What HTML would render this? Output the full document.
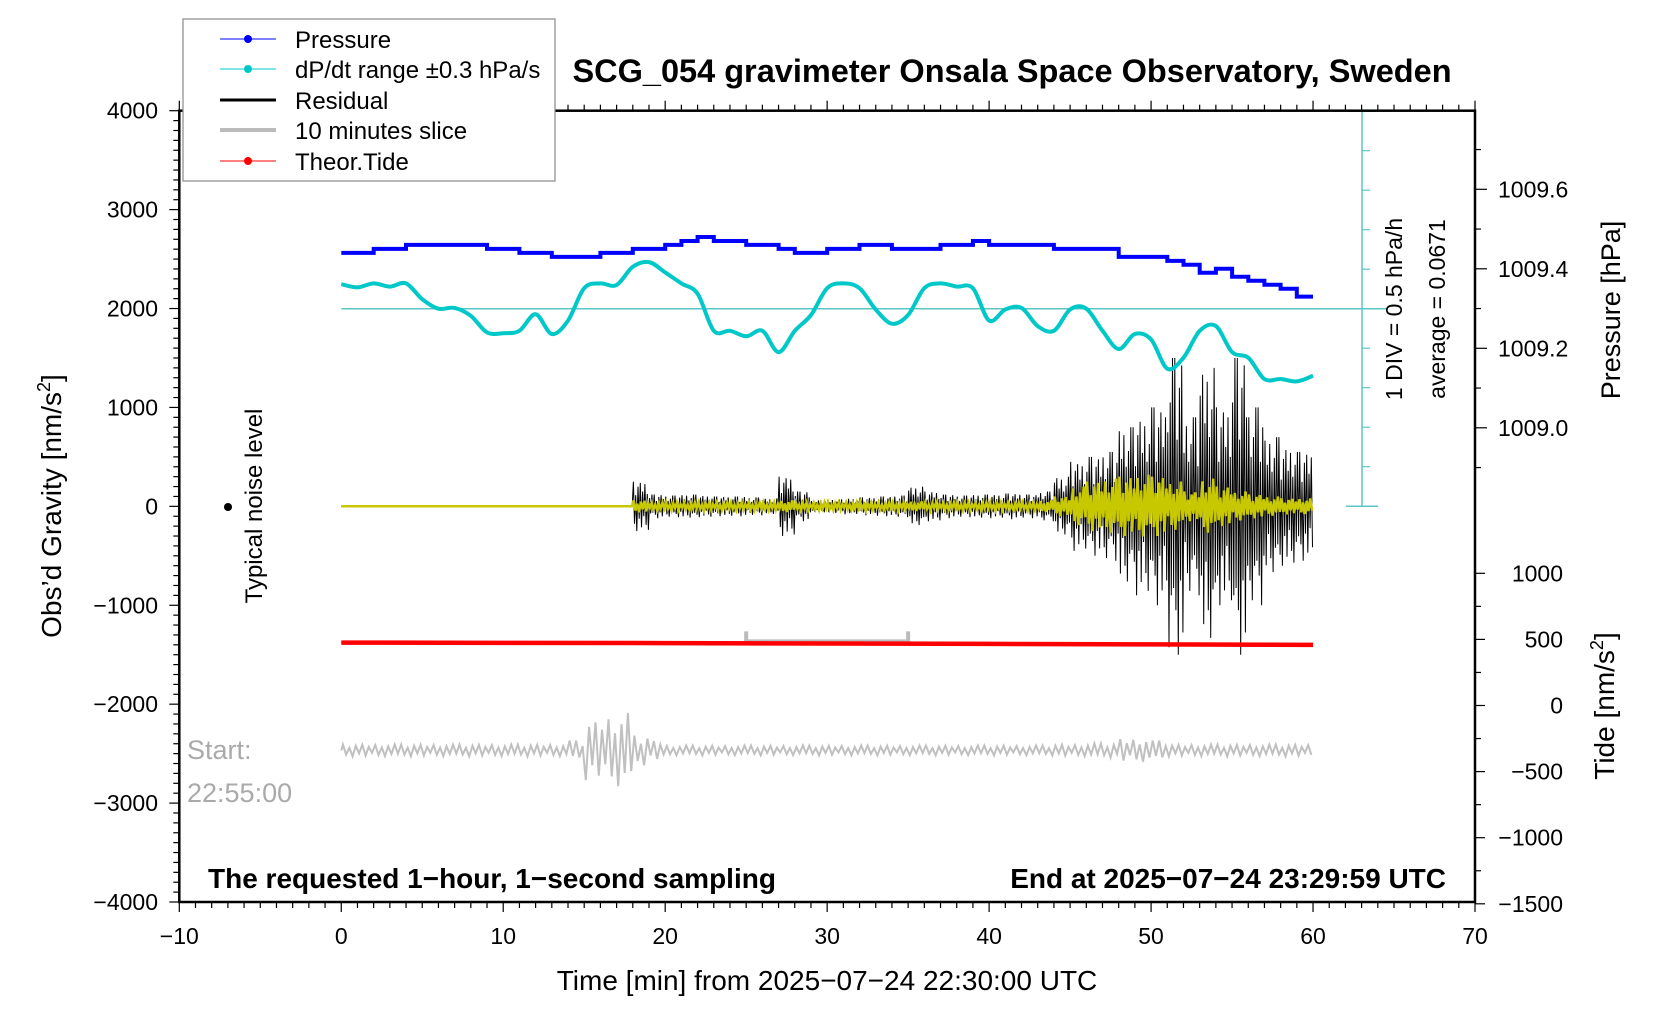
<!DOCTYPE html>
<html><head><meta charset="utf-8"><style>
html,body{margin:0;padding:0;background:#fff}
svg{display:block;font-family:"Liberation Sans",sans-serif}
</style></head><body>
<svg id="chart" width="1676" height="1020" viewBox="0 0 1676 1020" xmlns="http://www.w3.org/2000/svg">
<rect x="0" y="0" width="1676" height="1020" fill="#fff"/>
<g id="marks"></g>
<g id="axes"></g>
<text x="1012" y="82" text-anchor="middle" font-size="32.5" font-weight="bold">SCG_054 gravimeter Onsala Space Observatory, Sweden</text>
<text x="827" y="990" text-anchor="middle" font-size="28">Time [min] from 2025−07−24 22:30:00 UTC</text>
<text transform="translate(61,506) rotate(-90)" text-anchor="middle" font-size="28">Obs’d Gravity [nm/s<tspan font-size="18" dy="-11">2</tspan><tspan dy="11">]</tspan></text>
<text transform="translate(1620,310) rotate(-90)" text-anchor="middle" font-size="27">Pressure [hPa]</text>
<text transform="translate(1614,706) rotate(-90)" text-anchor="middle" font-size="28">Tide [nm/s<tspan font-size="18" dy="-11">2</tspan><tspan dy="11">]</tspan></text>
<text transform="translate(1402,309) rotate(-90)" text-anchor="middle" font-size="23">1 DIV = 0.5 hPa/h</text>
<text transform="translate(1445,309) rotate(-90)" text-anchor="middle" font-size="23">average = 0.0671</text>
<text transform="translate(262,506) rotate(-90)" text-anchor="middle" font-size="24">Typical noise level</text>
<circle cx="228" cy="507" r="4" fill="#000"/>
<text x="187" y="759" font-size="27" fill="#aaa">Start:</text>
<text x="187" y="802" font-size="27" fill="#aaa">22:55:00</text>
<text x="208" y="888" font-size="28" font-weight="bold">The requested 1−hour, 1−second sampling</text>
<text x="1446" y="888" text-anchor="end" font-size="28" font-weight="bold">End at 2025−07−24 23:29:59 UTC</text>
<g>
<rect x="183" y="19" width="372" height="162" fill="#fff" stroke="#888" stroke-width="1.2"/>
<g><line x1="220" y1="39" x2="276" y2="39" stroke="#00f" stroke-width="1"/><circle cx="248" cy="39" r="4" fill="#00f"/><text x="295" y="48" font-size="24">Pressure</text></g>
<g><line x1="220" y1="69" x2="276" y2="69" stroke="#00c8c8" stroke-width="1"/><circle cx="248" cy="69" r="4" fill="#00c8c8"/><text x="295" y="78" font-size="24">dP/dt range ±0.3 hPa/s</text></g>
<g><line x1="220" y1="100" x2="276" y2="100" stroke="#000" stroke-width="3"/><text x="295" y="109" font-size="24">Residual</text></g>
<g><line x1="220" y1="130" x2="276" y2="130" stroke="#bbb" stroke-width="4"/><text x="295" y="139" font-size="24">10 minutes slice</text></g>
<g><line x1="220" y1="161" x2="276" y2="161" stroke="#f00" stroke-width="1"/><circle cx="248" cy="161" r="4" fill="#f00"/><text x="295" y="170" font-size="24">Theor.Tide</text></g>
</g>
</svg>
<script>
// ---- data ----
const xTicks = [-10,0,10,20,30,40,50,60,70];
const yTicks = [4000,3000,2000,1000,0,-1000,-2000,-3000,-4000];
const pressureTicks = [1009.0,1009.2,1009.4,1009.6];
const tideTicks = [1000,500,0,-500,-1000,-1500];
const pressure = [1009.44,1009.44,1009.45,1009.45,1009.46,1009.46,1009.46,1009.46,1009.46,1009.45,1009.45,1009.44,1009.44,1009.43,1009.43,1009.43,1009.44,1009.44,1009.45,1009.45,1009.46,1009.47,1009.48,1009.47,1009.47,1009.46,1009.46,1009.45,1009.44,1009.44,1009.45,1009.45,1009.46,1009.46,1009.45,1009.45,1009.45,1009.46,1009.46,1009.47,1009.46,1009.46,1009.46,1009.46,1009.45,1009.45,1009.45,1009.45,1009.43,1009.43,1009.43,1009.42,1009.41,1009.39,1009.40,1009.38,1009.37,1009.36,1009.35,1009.33,1009.31];
const dpdt = [0.31,0.27,0.32,0.28,0.32,0.12,0.00,0.01,-0.09,-0.30,-0.31,-0.28,-0.07,-0.32,-0.15,0.26,0.32,0.30,0.53,0.59,0.46,0.32,0.19,-0.28,-0.28,-0.35,-0.28,-0.55,-0.28,-0.08,0.26,0.32,0.26,-0.01,-0.19,-0.08,0.26,0.32,0.28,0.26,-0.15,-0.01,0.01,-0.22,-0.28,-0.01,0.00,-0.28,-0.51,-0.32,-0.39,-0.76,-0.62,-0.28,-0.22,-0.55,-0.62,-0.89,-0.89,-0.92,-0.85];
const residualAmp = [0,0,0,0,0,0,0,0,0,0,0,0,0,0,0,0,0,0,250,120,110,120,110,100,100,90,80,300,150,60,70,80,90,100,110,200,150,120,110,120,120,130,120,150,300,450,500,550,800,900,1000,1500,900,1400,1000,1500,1000,700,600,550];
const fittedAmp = [0,0,0,0,0,0,0,0,0,0,0,0,0,0,0,0,0,0,60,40,40,40,40,40,40,40,40,60,40,40,40,40,40,40,40,50,40,40,40,40,40,40,40,60,100,200,250,280,300,320,300,250,150,280,200,150,120,100,80,80];
const sliceAmp = [60,60,60,60,60,60,60,60,60,60,60,60,60,60,100,300,350,380,150,100,50,50,50,50,50,50,50,50,50,50,50,50,50,50,50,50,50,50,50,50,50,50,50,50,60,60,70,70,120,120,100,60,60,60,60,60,60,60,60,60];
const sliceBase = -2468;
const tideTimes = [0,10,20,30,40,50,60];
const tideValues = [476,474,472,469,466,462,459];
const sliceWindow = [25,35];

// ---- scales ----
const X0=179.3, X1=1475, YT=110.7, YB=902;
const sx = t => X0 + (t+10)/80*(X1-X0);
const sy = v => YT + (4000-v)/8000*(YB-YT);
const sp = p => 189.3 + (1009.6-p)*397.5;
const st = v => 705.5 - v*0.1322;
const sd = v => 308.7 - v/0.5*39.5;

const NS='http://www.w3.org/2000/svg';
const marks=document.getElementById('marks');
const axes=document.getElementById('axes');
function mk(tag, parent, attrs){const e=document.createElementNS(NS,tag);for(const k in attrs)e.setAttribute(k,attrs[k]);parent.appendChild(e);return e;}

let e;
e=mk('line',marks,{x1:sx(0),y1:sd(0),x2:1388,y2:sd(0),stroke:'#5cc6c6','stroke-width':1.5});


const sb=mk('g',marks,{});


mk('line',sb,{x1:1362,y1:sd(2.5),x2:1362,y2:sd(-2.5),stroke:'#5cc6c6','stroke-width':1.5});
mk('line',sb,{x1:1346,y1:sd(-2.5),x2:1378,y2:sd(-2.5),stroke:'#5cc6c6','stroke-width':1.5});
mk('line',sb,{x1:1346,y1:sd(2.5),x2:1378,y2:sd(2.5),stroke:'#5cc6c6','stroke-width':1.5});
for(let i=-4;i<=4;i++){ if(i===0)continue; mk('line',sb,{x1:1362,y1:sd(i*0.5),x2:1370,y2:sd(i*0.5),stroke:'#5cc6c6','stroke-width':1.2}); }

const shape=[1,-0.7,0.45,-1,0.8,-0.5,0.95,-0.85,0.6,-0.4,0.9,-0.75,0.5,-0.95,0.7,-0.6,1,-0.55];
function zig(amp, perMin, base){
  let d='M'+sx(0)+','+sy(base);
  let c=0;
  for(let m=0;m<amp.length;m++){
    for(let k=0;k<perMin;k++){
      const t=m+(k+0.5)/perMin;
      const s=shape[c%shape.length]; c++;
      d+=' L'+sx(t).toFixed(1)+','+sy(base+s*amp[m]).toFixed(1);
    }
  }
  return d;
}
e=mk('path',marks,{d:zig(residualAmp,14,0),fill:'none',stroke:'#000','stroke-width':1});


e=mk('path',marks,{d:zig(fittedAmp,9,0),fill:'none',stroke:'#c8c800','stroke-width':2.5});



e=mk('path',marks,{d:zig(sliceAmp,5,sliceBase),fill:'none',stroke:'#c0c0c0','stroke-width':2});



const br=mk('path',marks,{d:`M${sx(sliceWindow[0])},${st(500)-8} L${sx(sliceWindow[0])},${st(500)+2} L${sx(sliceWindow[1])},${st(500)+2} L${sx(sliceWindow[1])},${st(500)-8}`,fill:'none',stroke:'#bbb','stroke-width':4});



e=mk('polyline',marks,{points:tideTimes.map((t,i)=>sx(t)+','+st(tideValues[i])).join(' '),fill:'none',stroke:'#f00','stroke-width':4.5});



let d='';
for(let i=0;i<pressure.length-1;i++){
  d+=(i===0?'M':' L')+sx(i).toFixed(1)+','+sp(pressure[i]).toFixed(1)+' L'+sx(i+1).toFixed(1)+','+sp(pressure[i]).toFixed(1);
}
e=mk('path',marks,{d:d,fill:'none',stroke:'#00f','stroke-width':4});



const pts=dpdt.map((v,i)=>[sx(i),sd(v)]);
d='M'+pts[0][0]+','+pts[0][1];
for(let i=0;i<pts.length-1;i++){
  const p0=pts[Math.max(0,i-1)],p1=pts[i],p2=pts[i+1],p3=pts[Math.min(pts.length-1,i+2)];
  d+=` C${(p1[0]+(p2[0]-p0[0])/6).toFixed(1)},${(p1[1]+(p2[1]-p0[1])/6).toFixed(1)} ${(p2[0]-(p3[0]-p1[0])/6).toFixed(1)},${(p2[1]-(p3[1]-p1[1])/6).toFixed(1)} ${p2[0].toFixed(1)},${p2[1].toFixed(1)}`;
}
e=mk('path',marks,{d:d,fill:'none',stroke:'#00c8c8','stroke-width':4});



// ---- axes ----
e=mk('rect',axes,{x:X0,y:YT,width:X1-X0,height:YB-YT,fill:'none',stroke:'#000','stroke-width':2.5});


for(let t=-10;t<=70;t++){
  const L=(t%10===0)?10:6;
  mk('line',axes,{x1:sx(t),y1:YB,x2:sx(t),y2:YB+L,stroke:'#000','stroke-width':1.2});
  mk('line',axes,{x1:sx(t),y1:YT,x2:sx(t),y2:YT-L,stroke:'#000','stroke-width':1.2});
}
xTicks.forEach(t=>{
  const tx=mk('text',axes,{x:sx(t),y:944,'text-anchor':'middle','font-size':23});
  tx.textContent=String(t).replace('-','−');
  
  
});
for(let v=-4000;v<=4000;v+=100){
  const L=(v%1000===0)?10:6;
  mk('line',axes,{x1:X0,y1:sy(v),x2:X0-L,y2:sy(v),stroke:'#000','stroke-width':1.2});
}
yTicks.forEach(v=>{
  const tx=mk('text',axes,{x:158,y:sy(v)+8,'text-anchor':'end','font-size':23});
  tx.textContent=String(v).replace('-','−');
  
  
});
for(let p=1008.9;p<=1009.75;p+=0.1){
  const major=Math.abs(Math.round(p*10)%2)===0;
  mk('line',axes,{x1:X1,y1:sp(p),x2:X1+(major?12:6),y2:sp(p),stroke:'#000','stroke-width':1.2});
}
pressureTicks.forEach(p=>{
  const tx=mk('text',axes,{x:1498,y:sp(p)+8,'font-size':23});
  tx.textContent=p.toFixed(1);
  
  
});
for(let v=-1500;v<=1000;v+=250){
  mk('line',axes,{x1:X1,y1:st(v),x2:X1+(v%500===0?10:6),y2:st(v),stroke:'#000','stroke-width':1.2});
}
tideTicks.forEach(v=>{
  const tx=mk('text',axes,{x:1563,y:st(v)+8,'text-anchor':'end','font-size':23});
  tx.textContent=String(v).replace('-','−');
  
  
});
</script>
</body></html>
